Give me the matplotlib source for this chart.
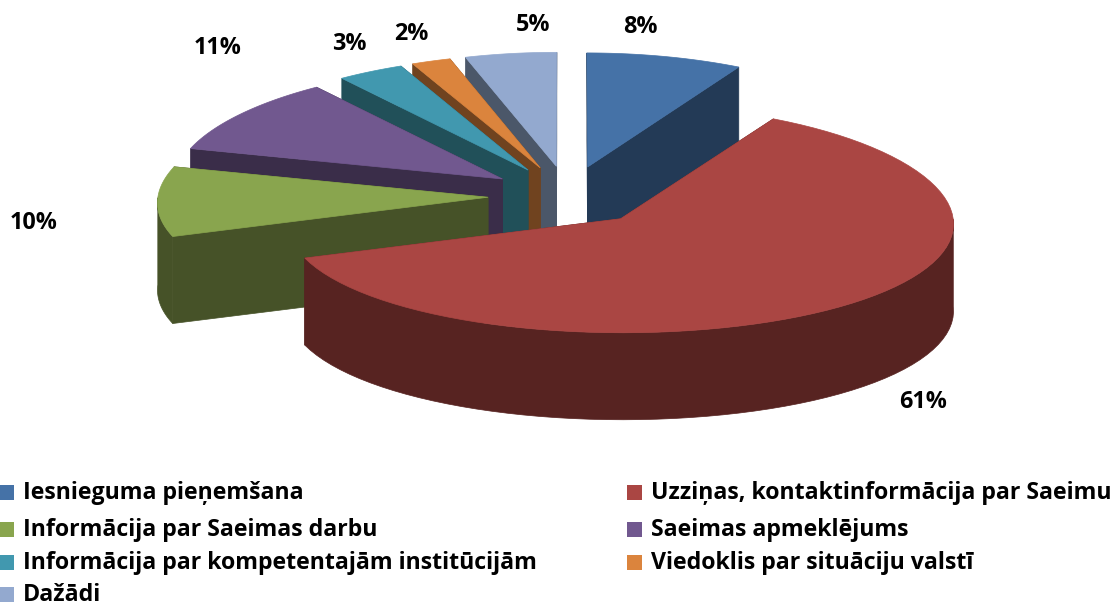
import numpy as np
import matplotlib
matplotlib.use("Agg")
import matplotlib.pyplot as plt
from matplotlib.patches import Polygon, Rectangle

plt.rcParams['font.family'] = ['Open Sans', 'DejaVu Sans']

# data
labels = ["Iesnieguma pieņemšana", "Uzziņas, kontaktinformācija par Saeimu",
          "Informācija par Saeimas darbu", "Saeimas apmeklējums",
          "Informācija par kompetentajām institūcijām", "Viedoklis par situāciju valstī",
          "Dažādi"]
values = [8.0, 61.4, 9.9, 10.6, 3.4, 2.0, 4.7]

top_colors = ["#4572A7", "#AA4643", "#89A54E", "#71588F", "#4198AF", "#DB843D", "#93A9CF"]
side_colors = ["#233A56", "#572321", "#465228", "#3A2D49", "#215059", "#70431F", "#4B5769"]

# layout of the fake 3d pie, in pixels
cx, cy = 568, 196
rx, ry = 330, 114
explode_x, explode_y = 80, 30
depth = 87
persp = 0.04

label_pos = [(640, 27), (923, 402), (34, 223), (218, 48), (349, 44), (411, 34), (533, 25)]


def project(ang, r, ox, oy):
    # ang clockwise from 12 o'clock, r 0..1, ox/oy explode offset
    x = r * np.sin(ang) * rx + ox
    y = -r * np.cos(ang) * ry + oy
    k = 1 + persp * y / ry
    return cx + x * k, cy + y


fig = plt.figure(figsize=(11.18, 6.06), dpi=100)
ax = fig.add_axes([0, 0, 1, 1])
ax.set_xlim(0, 1118)
ax.set_ylim(606, 0)
ax.axis("off")

edges = np.cumsum([0] + values) / sum(values) * 2 * np.pi
mids = (edges[:-1] + edges[1:]) / 2

# back slices first, red one last
order = [6, 5, 4, 3, 2, 0, 1]
for i in order:
    a0, a1 = edges[i], edges[i + 1]
    ox = np.sin(mids[i]) * explode_x
    oy = -np.cos(mids[i]) * explode_y
    t = np.linspace(a0, a1, 80)
    xs, ys = project(t, 1.0, ox, oy)
    ax0, ay0 = project(0.0, 0.0, ox, oy)

    # radial walls
    for a in (a0, a1):
        ex, ey = project(a, 1.0, ox, oy)
        wall = [(ax0, ay0), (ex, ey), (ex, ey + depth), (ax0, ay0 + depth)]
        ax.add_patch(Polygon(wall, closed=True, fc=side_colors[i], ec=side_colors[i], lw=0.5))

    # outer rim, only the part facing the viewer
    front = (t > np.pi / 2) & (t < 3 * np.pi / 2)
    if front.any():
        fx, fy = xs[front], ys[front]
        rim = np.concatenate([np.c_[fx, fy], np.c_[fx[::-1], fy[::-1] + depth]])
        ax.add_patch(Polygon(rim, closed=True, fc=side_colors[i], ec=side_colors[i], lw=0.5))

    top = np.concatenate([[[ax0, ay0]], np.c_[xs, ys]])
    ax.add_patch(Polygon(top, closed=True, fc=top_colors[i], ec=top_colors[i], lw=0.5))

for v, (lx, ly) in zip(values, label_pos):
    ax.text(lx, ly, f"{v:.0f}%", ha="center", va="center", fontsize=16.8, fontweight="bold", color="black")

# legend
leg_x = [0, 628]
leg_y = [493, 530, 563, 595]
for i, lab in enumerate(labels):
    col = i % 2
    row = i // 2
    ax.add_patch(Rectangle((leg_x[col] - 1, leg_y[row] - 8), 15, 15, fc=top_colors[i], ec="none"))
    ax.text(leg_x[col] + 23, leg_y[row], lab, ha="left", va="center", fontsize=16.7,
            fontweight="bold", color="black")

fig.savefig("out.png", dpi=100)
plt.close()
